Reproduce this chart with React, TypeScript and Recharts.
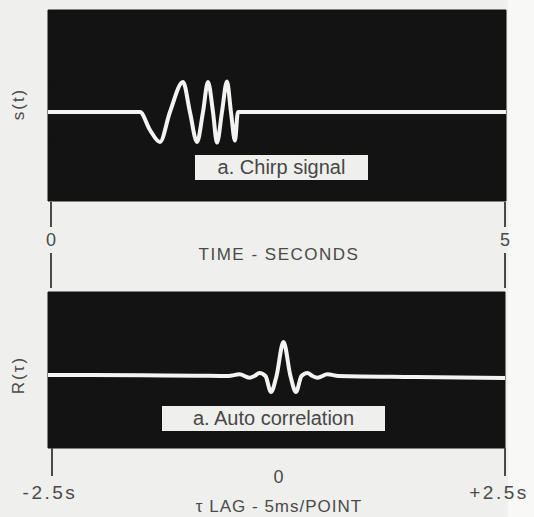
import { LineChart, Line, XAxis, YAxis, CartesianGrid } from 'recharts';

// chirp signal s(t), time in seconds
const chirpTime = [-0.033, 0.5, 0.87, 0.98, 1.09, 1.2, 1.31, 1.454, 1.53, 1.608, 1.674, 1.729, 1.784, 1.828, 1.883, 1.938, 1.982, 2.026, 2.059, 3.0, 4.0, 5.011];
const chirpValue = [0, 0, 0, 0, -0.6, -1, 0, 1, 0, -1, 0, 1, 0, -1.02, 0, 1.02, 0, -0.95, 0, 0, 0, 0];

// autocorrelation R(tau), lag in seconds
const lagTime = [-2.544, -1.5, -0.9, -0.552, -0.431, -0.32, -0.265, -0.21, -0.144, -0.083, -0.022, 0.055, 0.132, 0.193, 0.254, 0.32, 0.375, 0.43, 0.541, 0.662, 1.5, 2.5];
const lagValue = [0.03, 0.02, 0.01, 0, 0.05, -0.05, 0, 0.09, 0, -0.47, 0, 1.0, 0, -0.47, 0, 0.09, 0, -0.05, 0.05, 0, -0.03, -0.06];

const timeTicks = [0, 5];
const timeTickLabels = ['0', '5'];
const lagTicks = [-2.5, 0, 2.5];
const lagTickLabels = ['-2.5s', '0', '+2.5s'];

const chirpData = chirpTime.map((t, i) => ({ t, s: chirpValue[i] }));
const lagData = lagTime.map((t, i) => ({ t, r: lagValue[i] }));

const INK = '#4a4a4a';
const PANEL = '#131313';
const TRACE = '#f3f3f1';
const FONT = '"Liberation Sans", Arial, sans-serif';

const TimeTick = ({ x, payload }: any) => {
  const label = timeTickLabels[timeTicks.indexOf(payload.value)];
  return (
    <g>
      <line x1={x} x2={x} y1={202} y2={227} stroke={INK} strokeWidth={2} />
      <text x={x} y={240} textAnchor="middle" dominantBaseline="central" fill={INK} fontSize={18} fontFamily={FONT}>
        {label}
      </text>
      <line x1={x} x2={x} y1={253} y2={288} stroke={INK} strokeWidth={2} />
    </g>
  );
};

const LagTick = ({ x, payload }: any) => {
  const label = lagTickLabels[lagTicks.indexOf(payload.value)];
  if (payload.value === 0) {
    return (
      <text x={x} y={187} textAnchor="middle" dominantBaseline="central" fill={INK} fontSize={18} fontFamily={FONT}>
        {label}
      </text>
    );
  }
  // shift the end labels a little inward so the right one stays on the page
  const dx = payload.value < 0 ? -2 : -6;
  return (
    <g>
      <line x1={x} x2={x} y1={158} y2={186} stroke={INK} strokeWidth={2} />
      <text x={x + dx} y={202} textAnchor="middle" dominantBaseline="central" fill={INK} fontSize={19} letterSpacing={2.5} fontFamily={FONT}>
        {label}
      </text>
    </g>
  );
};

const boxStyle = {
  position: 'absolute' as const,
  background: '#efefed',
  color: '#474747',
  fontFamily: FONT,
  fontSize: 20,
  display: 'flex',
  alignItems: 'center',
  justifyContent: 'center',
};

const textStyle = {
  position: 'absolute' as const,
  color: INK,
  fontFamily: FONT,
  whiteSpace: 'nowrap' as const,
};

export default function App() {
  return (
    <div style={{ position: 'absolute', left: 0, top: 0, width: 534, height: 517, background: '#efefed', overflow: 'hidden' }}>
      <div style={{ position: 'absolute', left: 508, top: 0, width: 26, height: 517, background: '#f8f8f7' }} />

      <div style={{ position: 'absolute', left: 0, top: 0 }}>
        <LineChart width={534} height={300} data={chirpData} margin={{ top: 10, right: 28, left: 48, bottom: 0 }}>
          <CartesianGrid fill={PANEL} stroke={PANEL} />
          <XAxis
            dataKey="t"
            type="number"
            domain={[-0.033, 5.011]}
            ticks={timeTicks}
            height={99}
            axisLine={false}
            tickLine={false}
            tick={TimeTick}
            allowDataOverflow
          />
          <YAxis hide domain={[-2.967, 3.4]} allowDataOverflow />
          <Line type="monotone" dataKey="s" stroke={TRACE} strokeWidth={4} dot={false} isAnimationActive={false} />
        </LineChart>
      </div>

      <div style={{ position: 'absolute', left: 0, top: 290 }}>
        <LineChart width={534} height={227} data={lagData} margin={{ top: 2, right: 29, left: 48, bottom: 0 }}>
          <CartesianGrid fill={PANEL} stroke={PANEL} />
          <XAxis
            dataKey="t"
            type="number"
            domain={[-2.544, 2.5]}
            ticks={lagTicks}
            height={69}
            axisLine={false}
            tickLine={false}
            tick={LagTick}
            allowDataOverflow
          />
          <YAxis hide domain={[-2.118, 2.47]} allowDataOverflow />
          <Line type="monotone" dataKey="r" stroke={TRACE} strokeWidth={4} dot={false} isAnimationActive={false} />
        </LineChart>
      </div>

      <div style={{ ...boxStyle, left: 195, top: 155, width: 173, height: 25 }}>a. Chirp signal</div>
      <div style={{ ...boxStyle, left: 162, top: 406, width: 223, height: 25 }}>a. Auto correlation</div>

      <div style={{ ...textStyle, left: 279, top: 255, fontSize: 17, letterSpacing: 1.5, transform: 'translate(-50%, -50%)' }}>
        TIME - SECONDS
      </div>
      <div style={{ ...textStyle, left: 279, top: 507, fontSize: 17, letterSpacing: 1, transform: 'translate(-50%, -50%)' }}>
        τ LAG - 5ms/POINT
      </div>
      <div style={{ ...textStyle, left: 19, top: 104, fontSize: 17, letterSpacing: 2, transform: 'translate(-50%, -50%) rotate(-90deg)' }}>
        s(t)
      </div>
      <div style={{ ...textStyle, left: 19, top: 375, fontSize: 17, letterSpacing: 2, transform: 'translate(-50%, -50%) rotate(-90deg)' }}>
        R(τ)
      </div>
    </div>
  );
}
